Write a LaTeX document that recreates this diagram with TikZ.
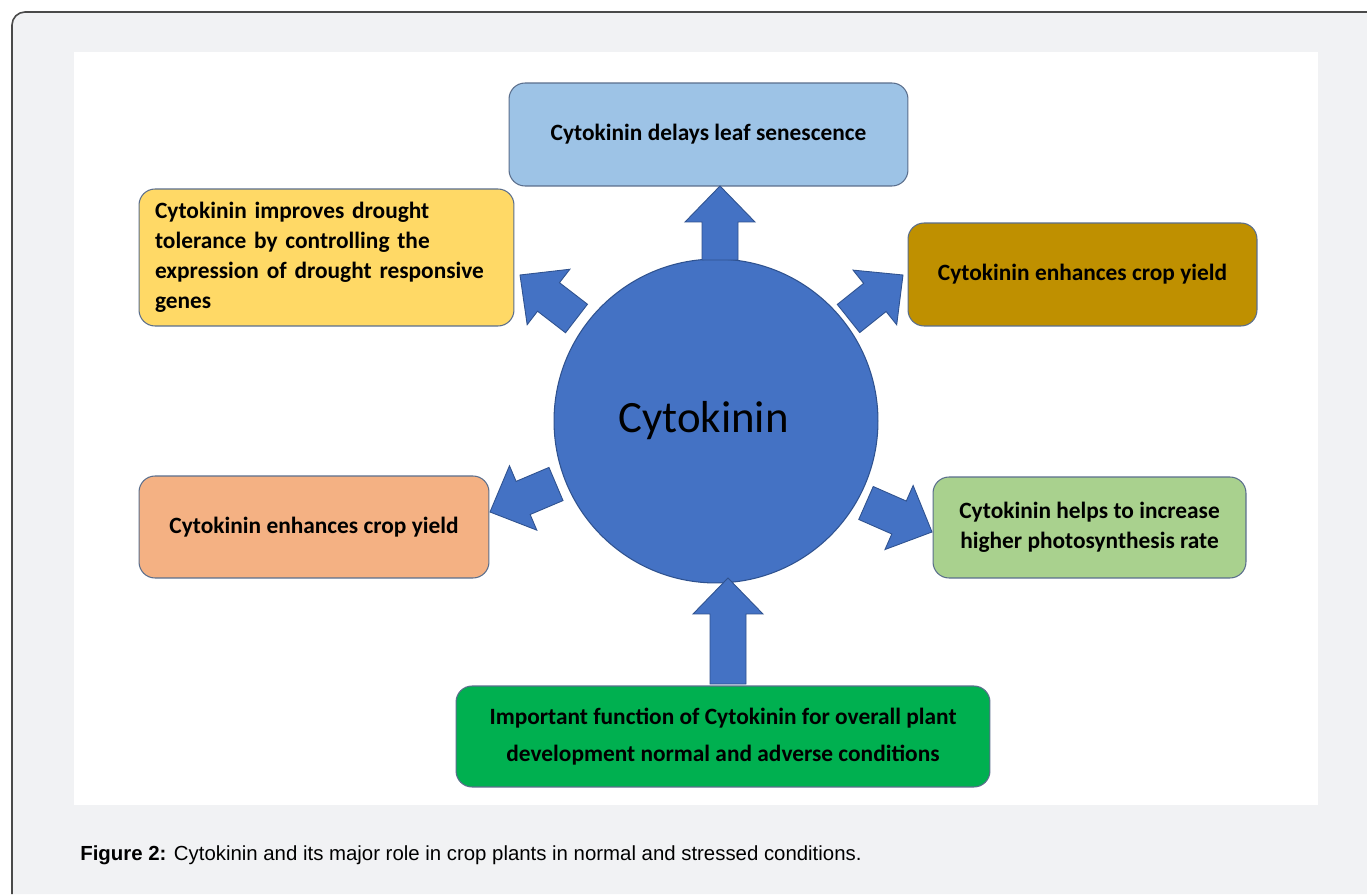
\documentclass[tikz,border=0pt]{standalone}
\usepackage{fontspec}
\setmainfont{Liberation Sans}
\newfontfamily\boxfont{Carlito}
\usepackage{tikz}
\usetikzlibrary{calc, positioning}

\definecolor{pagegray}{HTML}{F1F2F4}
\definecolor{framegray}{HTML}{4A4A4A}
\definecolor{cytoblue}{HTML}{4472C4}
\definecolor{cytoedge}{HTML}{2F528F}
\definecolor{boxedge}{HTML}{5A6E8C}
\definecolor{senesblue}{HTML}{9DC3E6}
\definecolor{droughtyellow}{HTML}{FFD966}
\definecolor{yieldgold}{HTML}{BF9000}
\definecolor{yieldorange}{HTML}{F4B183}
\definecolor{photogreen}{HTML}{A9D18E}
\definecolor{funcgreen}{HTML}{00B050}

% block arrow from #1 (base) to #2 (tip)
\newcommand{\blockarrow}[2]{%
  \path (#1) coordinate (ba base) (#2) coordinate (ba tip)
        ($(#2)!0.72cm!(#1)$) coordinate (ba head);
  \draw[bigarrow]
    ($(ba base)!0.36cm!-90:(ba tip)$) -- ($(ba head)!0.36cm!90:(ba base)$)
    -- ($(ba head)!0.70cm!90:(ba base)$) -- (ba tip)
    -- ($(ba head)!0.70cm!-90:(ba base)$) -- ($(ba head)!0.36cm!-90:(ba base)$)
    -- ($(ba base)!0.36cm!90:(ba tip)$) -- cycle;
}

\begin{document}
\begin{tikzpicture}[x=0.02cm, y=0.02cm,
    rolebox/.style={draw=boxedge, line width=0.6pt, rounded corners=0.32cm,
      inner sep=0pt, align=center,
      font=\boxfont\bfseries\fontsize{13.3}{17}\selectfont},
    bigarrow/.style={fill=cytoblue, draw=cytoedge, line width=0.5pt, line join=miter}]
\useasboundingbox (0,0) rectangle (1367,894);

% page and panel
\fill[pagegray] (12,0) -- (12,869) arc (180:90:13) -- (1367,882) -- (1367,0) -- cycle;
\draw[framegray, line width=0.9pt] (12,0) -- (12,869) arc (180:90:13) -- (1367,882);
\fill[white] (74,89) rectangle (1318,842);

% centre
\node[circle, fill=cytoblue, draw=cytoedge, line width=0.6pt, minimum size=6.48cm,
      inner sep=0pt, font=\boxfont\fontsize{25.5}{30}\selectfont] (cyto) at (716,473)
  {\hspace*{-0.5cm}Cytokinin};

% boxes
\node[rolebox, fill=senesblue, minimum width=7.98cm, minimum height=2.06cm]
  (senes) at (708.5,759.5) {Cytokinin delays leaf senescence};
\node[rolebox, fill=droughtyellow, minimum width=7.5cm, minimum height=2.74cm,
      align=left, text width=6.86cm]
  (drought) at (326.5,636.5) {Cytokinin improves drought\\ tolerance by controlling the\\ expression of drought responsive\\ genes};
\node[rolebox, fill=yieldgold, minimum width=6.98cm, minimum height=2.06cm]
  (yield right) at (1082.5,619.5) {Cytokinin enhances crop yield};
\node[rolebox, fill=yieldorange, minimum width=7cm, minimum height=2.04cm]
  (yield left) at (314,367) {Cytokinin enhances crop yield};
\node[rolebox, fill=photogreen, minimum width=6.26cm, minimum height=2.02cm]
  (photo) at (1089.5,366.5) {Cytokinin helps to increase\\ higher photosynthesis rate};
\node[rolebox, fill=funcgreen, minimum width=10.68cm, minimum height=2.02cm,
      font=\boxfont\bfseries\fontsize{13.3}{21}\selectfont]
  (func) at (723,157.5) {Important function of Cytokinin for overall plant\\ development normal and adverse conditions};

% arrow ends
\coordinate (up base) at ($(cyto)+(4,161)$);
\coordinate (up tip) at ($(cyto)+(4,235)$);
\coordinate (tl base) at ($(cyto)+(-139.5,102.5)$);
\coordinate (tl tip) at ($(cyto)+(-196,146)$);
\coordinate (tr base) at ($(cyto)+(132.5,102.5)$);
\coordinate (tr tip) at ($(cyto)+(187,146)$);
\coordinate (bl base) at ($(cyto)+(-160,-63)$);
\coordinate (bl tip) at ($(cyto)+(-226,-91)$);
\coordinate (br base) at ($(cyto)+(150,-82)$);
\coordinate (br tip) at ($(cyto)+(216,-111)$);
\coordinate (dn base) at ($(cyto)+(12,-263)$);
\coordinate (dn tip) at ($(cyto)+(12,-157)$);

\blockarrow{up base}{up tip}
\blockarrow{tl base}{tl tip}
\blockarrow{tr base}{tr tip}
\blockarrow{bl base}{bl tip}
\blockarrow{br base}{br tip}
\blockarrow{dn base}{dn tip}

% caption
\node[anchor=west, inner sep=0pt, font=\fontsize{11.6}{14}\selectfont]
  (caption) at (80,39) {\textbf{Figure 2:} Cytokinin and its major role in crop plants in normal and stressed conditions.};
\end{tikzpicture}
\end{document}
